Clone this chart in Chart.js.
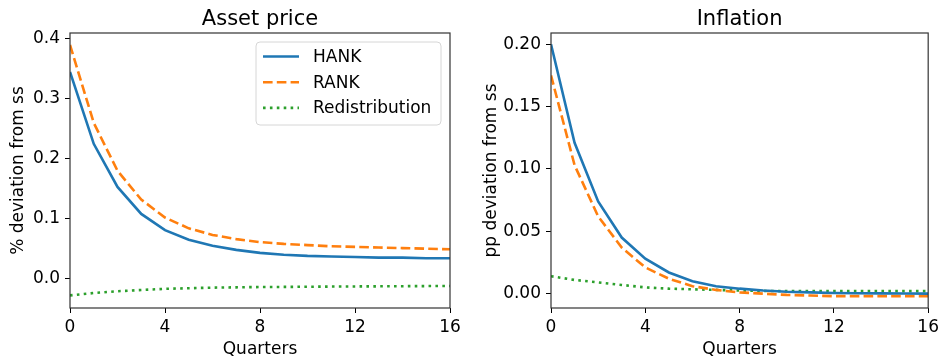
<!DOCTYPE html>
<html>
<head>
<meta charset="utf-8">
<script src="https://cdn.jsdelivr.net/npm/chart.js@4.4.1/dist/chart.umd.min.js"></script>
<style>
    body { margin: 0; background: #fff; }
    .panel { position: absolute; top: 0; height: 360px; }
</style>
</head>
<body>
<div class="panel" style="left:0;width:470px"><canvas id="assetChart" width="470" height="360"></canvas></div>
<div class="panel" style="left:470px;width:473px"><canvas id="inflationChart" width="473" height="360"></canvas></div>
<script>
const quarters = [0, 1, 2, 3, 4, 5, 6, 7, 8, 9, 10, 11, 12, 13, 14, 15, 16];
const xTicks = [0, 4, 8, 12, 16];

// Asset price (% deviation from ss)
const assetHank = [0.345, 0.225, 0.153, 0.108, 0.081, 0.065, 0.055, 0.048, 0.043, 0.040, 0.038, 0.037, 0.036, 0.035, 0.035, 0.034, 0.034];
const assetRank = [0.390, 0.260, 0.180, 0.132, 0.102, 0.084, 0.073, 0.066, 0.061, 0.058, 0.056, 0.054, 0.053, 0.052, 0.051, 0.050, 0.049];
const assetRedist = [-0.028, -0.024, -0.021, -0.019, -0.017, -0.016, -0.015, -0.0145, -0.014, -0.0138, -0.0135, -0.0132, -0.013, -0.0128, -0.0126, -0.0124, -0.0122];
const assetTicks = [0, 0.1, 0.2, 0.3, 0.4];

// Inflation (pp deviation from ss)
const inflHank = [0.200, 0.121, 0.074, 0.045, 0.028, 0.017, 0.010, 0.006, 0.004, 0.0025, 0.0015, 0.001, 0.0005, 0.0003, 0.0002, 0.0001, 0.0];
const inflRank = [0.175, 0.103, 0.062, 0.037, 0.021, 0.012, 0.006, 0.003, 0.001, 0.0, -0.001, -0.0015, -0.002, -0.002, -0.002, -0.002, -0.002];
const inflRedist = [0.014, 0.011, 0.009, 0.007, 0.005, 0.004, 0.0035, 0.003, 0.0025, 0.0022, 0.002, 0.002, 0.002, 0.002, 0.002, 0.002, 0.002];
const inflTicks = [0, 0.05, 0.10, 0.15, 0.20];

const seriesNames = ['HANK', 'RANK', 'Redistribution'];
const FONT = 'DejaVu Sans';

function points(values) {
    return quarters.map((q, i) => ({ x: q, y: values[i] }));
}

function makeDatasets(hank, rank, redist) {
    return [
        { label: seriesNames[0], data: points(hank), borderColor: '#1f77b4', borderWidth: 2.6, borderDash: [] },
        { label: seriesNames[1], data: points(rank), borderColor: '#ff7f0e', borderWidth: 2.6, borderDash: [9.6, 4.2] },
        { label: seriesNames[2], data: points(redist), borderColor: '#2ca02c', borderWidth: 2.6, borderDash: [2.6, 4.3] }
    ].map(d => Object.assign(d, { pointRadius: 0, tension: 0, fill: false, borderCapStyle: 'butt' }));
}

// frame, title and (optional) legend drawn like matplotlib
const framePlugin = {
    id: 'frame',
    afterDraw(chart, args, opts) {
        const ctx = chart.ctx;
        const a = chart.chartArea;
        ctx.save();
        ctx.strokeStyle = '#333';
        ctx.lineWidth = 1.2;
        ctx.strokeRect(a.left, a.top, a.right - a.left, a.bottom - a.top);

        ctx.fillStyle = '#000';
        ctx.font = '21px "' + FONT + '"';
        ctx.textAlign = 'center';
        ctx.textBaseline = 'alphabetic';
        ctx.fillText(opts.title, (a.left + a.right) / 2, 25);

        if (opts.legend) {
            const bx = a.left + 186, by = a.top + 9, bw = 185, bh = 83;
            ctx.beginPath();
            ctx.roundRect(bx, by, bw, bh, 4);
            ctx.fillStyle = 'rgba(255,255,255,0.8)';
            ctx.fill();
            ctx.strokeStyle = '#d6d6d6';
            ctx.lineWidth = 1;
            ctx.stroke();
            ctx.font = '17px "' + FONT + '"';
            ctx.textAlign = 'left';
            ctx.textBaseline = 'middle';
            chart.data.datasets.forEach((ds, i) => {
                const y = by + 14.5 + i * 25.7;
                ctx.beginPath();
                ctx.setLineDash(ds.borderDash);
                ctx.lineCap = 'butt';
                ctx.strokeStyle = ds.borderColor;
                ctx.lineWidth = ds.borderWidth;
                ctx.moveTo(bx + 7, y);
                ctx.lineTo(bx + 43, y);
                ctx.stroke();
                ctx.setLineDash([]);
                ctx.fillStyle = '#000';
                ctx.fillText(ds.label, bx + 57, y + 1);
            });
        }
        ctx.restore();
    }
};

function makeChart(id, datasets, cfg) {
    new Chart(document.getElementById(id), {
        type: 'line',
        data: { datasets: datasets },
        options: {
            responsive: false,
            animation: false,
            layout: { padding: { top: 33, right: cfg.padRight, left: 0, bottom: 0 } },
            plugins: {
                legend: { display: false },
                tooltip: { enabled: false },
                frame: { title: cfg.title, legend: cfg.legend }
            },
            scales: {
                x: {
                    type: 'linear',
                    min: 0,
                    max: 16,
                    afterBuildTicks: s => { s.ticks = xTicks.map(v => ({ value: v })); },
                    afterFit: s => { s.height = 52; },
                    grid: { drawOnChartArea: false, tickLength: 5, color: '#000', tickWidth: 1 },
                    border: { display: false },
                    ticks: { color: '#000', font: { family: FONT, size: 17 }, padding: 4, maxRotation: 0 },
                    title: { display: true, text: 'Quarters', color: '#000', font: { family: FONT, size: 17 }, padding: { top: 0, bottom: 0 } }
                },
                y: {
                    type: 'linear',
                    min: cfg.yMin,
                    max: cfg.yMax,
                    afterBuildTicks: s => { s.ticks = cfg.yTicks.map(v => ({ value: v })); },
                    afterFit: s => { s.width = cfg.yWidth; },
                    grid: { drawOnChartArea: false, tickLength: 5, color: '#000', tickWidth: 1 },
                    border: { display: false },
                    ticks: {
                        color: '#000',
                        font: { family: FONT, size: 17 },
                        padding: 5,
                        callback: v => v.toFixed(cfg.decimals)
                    },
                    title: { display: true, text: cfg.yTitle, color: '#000', font: { family: FONT, size: 17 }, padding: { top: cfg.yTitlePad, bottom: 0 } }
                }
            }
        },
        plugins: [framePlugin]
    });
}

makeChart('assetChart', makeDatasets(assetHank, assetRank, assetRedist), {
    title: 'Asset price', legend: true, padRight: 20, yWidth: 70, yTitlePad: 8,
    yMin: -0.049, yMax: 0.41, yTicks: assetTicks, decimals: 1, yTitle: '% deviation from ss'
});

makeChart('inflationChart', makeDatasets(inflHank, inflRank, inflRedist), {
    title: 'Inflation', legend: false, padRight: 12, yWidth: 81, yTitlePad: 11,
    yMin: -0.0115, yMax: 0.209, yTicks: inflTicks, decimals: 2, yTitle: 'pp deviation from ss'
});
</script>
</body>
</html>
